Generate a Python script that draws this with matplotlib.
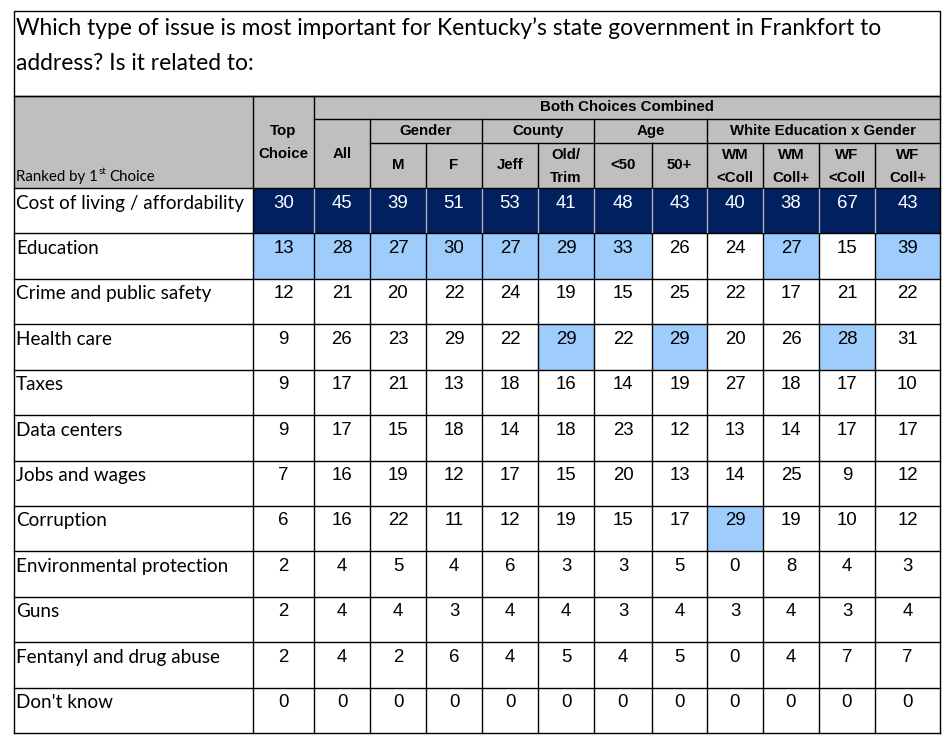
import matplotlib
matplotlib.use("Agg")
import matplotlib.pyplot as plt
from matplotlib.patches import Rectangle

# ---------------- data ----------------
title_lines = ["Which type of issue is most important for Kentucky\u2019s state government in Frankfort to",
               "address? Is it related to:"]
categories = ["Cost of living / affordability", "Education", "Crime and public safety",
              "Health care", "Taxes", "Data centers", "Jobs and wages", "Corruption",
              "Environmental protection", "Guns", "Fentanyl and drug abuse", "Don't know"]
col_labels = [["Top", "Choice"], ["All"], ["M"], ["F"], ["Jeff"], ["Old/", "Trim"],
              ["<50"], ["50+"], ["WM", "<Coll"], ["WM", "Coll+"], ["WF", "<Coll"], ["WF", "Coll+"]]
groups = [("Gender", 2, 3), ("County", 4, 5), ("Age", 6, 7), ("White Education x Gender", 8, 11)]
super_header = "Both Choices Combined"

top_choice = [30, 13, 12, 9, 9, 9, 7, 6, 2, 2, 2, 0]
all_resp   = [45, 28, 21, 26, 17, 17, 16, 16, 4, 4, 4, 0]
male       = [39, 27, 20, 23, 21, 15, 19, 22, 5, 4, 2, 0]
female     = [51, 30, 22, 29, 13, 18, 12, 11, 4, 3, 6, 0]
jeff       = [53, 27, 24, 22, 18, 14, 17, 12, 6, 4, 4, 0]
old_trim   = [41, 29, 19, 29, 16, 18, 15, 19, 3, 4, 5, 0]
under50    = [48, 33, 15, 22, 14, 23, 20, 15, 3, 3, 4, 0]
over50     = [43, 26, 25, 29, 19, 12, 13, 17, 5, 4, 5, 0]
wm_nocoll  = [40, 24, 22, 20, 27, 13, 14, 29, 0, 3, 0, 0]
wm_coll    = [38, 27, 17, 26, 18, 14, 25, 19, 8, 4, 4, 0]
wf_nocoll  = [67, 15, 21, 28, 17, 17, 9, 10, 4, 3, 7, 0]
wf_coll    = [43, 39, 22, 31, 10, 17, 12, 12, 3, 4, 7, 0]
columns = [top_choice, all_resp, male, female, jeff, old_trim, under50, over50,
           wm_nocoll, wm_coll, wf_nocoll, wf_coll]

# ---------------- style ----------------
NAVY = "#002060"
LIGHT = "#9fcdfb"
GRAY = "#bfbfbf"
LABEL_FONT = ["Lato", "DejaVu Sans"]
NUM_FONT = ["Liberation Sans", "DejaVu Sans"]
HEAD_FONT = ["Liberation Sans", "DejaVu Sans"]
HEAD_FS = 10.8

W, H = 952, 747
fig = plt.figure(figsize=(W / 100, H / 100), dpi=100)
ax = fig.add_axes([0, 0, 1, 1])
ax.set_xlim(0, W)
ax.set_ylim(H, 0)
ax.axis("off")

col_edges = [14, 253, 314, 370, 426, 482, 538, 594, 652, 707, 763, 819, 875, 940]
title_top, head_top, head_r1, head_r2, head_bot, table_bot = 11, 96, 119, 143, 188, 733
nrows = len(categories)
row_h = (table_bot - head_bot) / nrows
lw = 1.0

def line(x0, y0, x1, y1, color="black", z=5):
    ax.plot([x0, x1], [y0, y1], color=color, lw=lw, solid_capstyle="projecting", zorder=z)

# title box
ax.add_patch(Rectangle((col_edges[0], title_top), col_edges[-1] - col_edges[0], head_top - title_top,
                       facecolor="white", edgecolor="black", lw=lw, zorder=4))
for k, t in enumerate(title_lines):
    ax.text(16, 28 + k * 35, t, fontsize=16.4, family=LABEL_FONT, va="center", ha="left", zorder=6)

# header background
ax.add_patch(Rectangle((col_edges[0], head_top), col_edges[-1] - col_edges[0], head_bot - head_top,
                       facecolor=GRAY, edgecolor="none", zorder=1))

# highlight: row 0 navy; second-highest per column highlighted light blue
for j, col in enumerate(columns):
    rest_max = max(col[1:])
    for i, v in enumerate(col):
        x0, x1 = col_edges[j + 1], col_edges[j + 2]
        y0 = head_bot + i * row_h
        if i == 0:
            fc = NAVY
        elif v == rest_max:
            fc = LIGHT
        else:
            continue
        ax.add_patch(Rectangle((x0, y0), x1 - x0, row_h, facecolor=fc, edgecolor="none", zorder=2))

# horizontal lines
line(col_edges[0], head_top, col_edges[-1], head_top)
line(col_edges[2], head_r1, col_edges[-1], head_r1)
line(col_edges[3], head_r2, col_edges[-1], head_r2)
for i in range(nrows + 1):
    y = head_bot + i * row_h
    line(col_edges[0], y, col_edges[-1], y)

# vertical lines
group_bounds = {g[1] + 1 for g in groups}
for k, x in enumerate(col_edges):
    if k in (0, 1, 2, len(col_edges) - 1):
        y_start = head_top
    elif k in group_bounds:
        y_start = head_r1
    else:
        y_start = head_r2
    line(x, y_start, x, table_bot)
    if 2 <= k < len(col_edges) - 1:
        line(x, head_bot + 1, x, head_bot + row_h - 1, color="#a9b3cf", z=6)

# header texts
ax.text((col_edges[2] + col_edges[-1]) / 2, 107, super_header, fontsize=HEAD_FS, weight="bold",
        family=HEAD_FONT, ha="center", va="center", zorder=6)
for name, a, b in groups:
    ax.text((col_edges[a + 1] + col_edges[b + 2]) / 2, 131, name, fontsize=HEAD_FS, weight="bold",
            family=HEAD_FONT, ha="center", va="center", zorder=6)
for j, lab in enumerate(col_labels):
    xc = (col_edges[j + 1] + col_edges[j + 2]) / 2
    if j == 0:
        ys = [131, 154]
    elif j == 1:
        ys = [154]
    elif len(lab) == 2:
        ys = [155, 178]
    else:
        ys = [165]
    for t, y in zip(lab, ys):
        ax.text(xc, y, t, fontsize=HEAD_FS, weight="bold", family=HEAD_FONT,
                ha="center", va="center", zorder=6)

# "Ranked by 1st Choice" with superscript
renderer = fig.canvas.get_renderer()
t1 = ax.text(16, 177, "Ranked by 1", fontsize=10.8, family=LABEL_FONT, ha="left", va="center", zorder=6)
bb = t1.get_window_extent(renderer)
x_end = bb.x1  # pixels == data x
t2 = ax.text(x_end + 0.5, 172, "st", fontsize=7, family=LABEL_FONT, ha="left", va="center", zorder=6)
bb2 = t2.get_window_extent(renderer)
ax.text(bb2.x1 + 3, 177, "Choice", fontsize=10.8, family=LABEL_FONT, ha="left", va="center", zorder=6)

# body texts
for i, cat in enumerate(categories):
    y = head_bot + i * row_h + 15
    ax.text(16, y, cat, fontsize=13.6, family=LABEL_FONT, ha="left", va="center", zorder=6)
    for j, col in enumerate(columns):
        xc = (col_edges[j + 1] + col_edges[j + 2]) / 2
        ax.text(xc, y, str(col[i]), fontsize=13.4, family=NUM_FONT, ha="center", va="center",
                color="white" if i == 0 else "black", zorder=6)

fig.savefig("out.png", dpi=100)
